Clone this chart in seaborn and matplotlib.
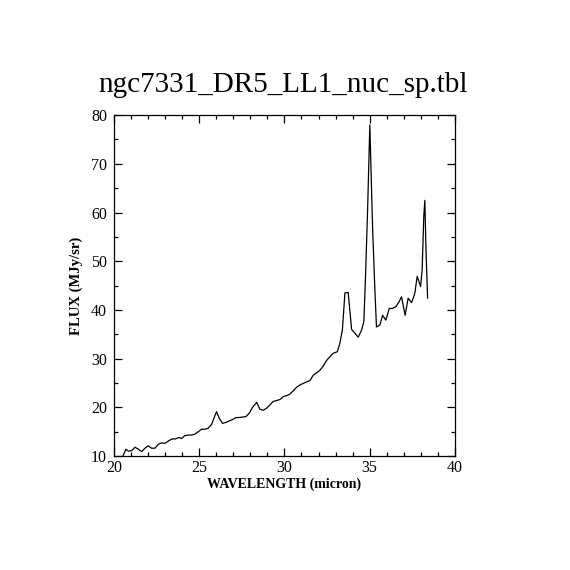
import numpy as np
import pandas as pd
import matplotlib
matplotlib.use("Agg")
import matplotlib.pyplot as plt
import seaborn as sns
from matplotlib.ticker import MultipleLocator

# spectrum
wavelength = [20.5, 20.7, 20.84, 21.04, 21.23, 21.43, 21.62, 21.82, 22.0, 22.2,
              22.4, 22.6, 22.8, 23.0, 23.2, 23.4, 23.6, 23.8, 23.97, 24.16,
              24.36, 24.55, 24.75, 24.95, 25.14, 25.34, 25.53, 25.73, 25.9, 26.02,
              26.18, 26.37, 26.57, 26.76, 26.96, 27.16, 27.35, 27.55, 27.74, 27.94,
              28.13, 28.37, 28.56, 28.76, 28.95, 29.15, 29.34, 29.54, 29.74, 29.93,
              30.13, 30.32, 30.52, 30.71, 30.91, 31.1, 31.3, 31.5, 31.69, 31.89,
              32.08, 32.28, 32.47, 32.67, 32.86, 33.1, 33.25, 33.4, 33.55, 33.74,
              33.94, 34.14, 34.33, 34.53, 34.66, 34.76, 34.88, 35.01, 35.17, 35.3,
              35.4, 35.6, 35.76, 35.95, 36.15, 36.34, 36.54, 36.73, 36.87, 37.08,
              37.26, 37.46, 37.65, 37.79, 37.99, 38.08, 38.18, 38.24, 38.3, 38.4]
flux = [9.8, 11.4, 11.0, 11.1, 11.8, 11.4, 10.9, 11.6, 12.1, 11.6,
        11.6, 12.4, 12.7, 12.6, 13.1, 13.5, 13.5, 13.8, 13.6, 14.2,
        14.3, 14.3, 14.5, 15.0, 15.5, 15.5, 15.7, 16.5, 18.1, 19.1,
        17.7, 16.7, 16.9, 17.2, 17.5, 17.9, 17.9, 18.0, 18.1, 18.8,
        20.0, 21.0, 19.6, 19.4, 19.8, 20.5, 21.2, 21.4, 21.6, 22.2,
        22.4, 22.7, 23.4, 24.1, 24.6, 24.9, 25.2, 25.5, 26.6, 27.1,
        27.6, 28.5, 29.6, 30.4, 31.1, 31.4, 33.1, 35.9, 43.5, 43.6,
        36.0, 35.2, 34.4, 35.9, 37.6, 47.1, 60.5, 78.0, 57.1, 44.8,
        36.5, 36.9, 38.9, 37.9, 40.3, 40.3, 40.7, 41.7, 42.7, 38.9,
        42.4, 41.5, 43.4, 46.9, 44.8, 48.2, 59.5, 62.5, 53.0, 42.4]

df = pd.DataFrame({"wavelength": wavelength, "flux": flux})

sns.set_style("ticks")
plt.rcParams["font.family"] = ["Liberation Serif", "DejaVu Serif"]
plt.rcParams["text.color"] = "black"
plt.rcParams["axes.labelcolor"] = "black"
plt.rcParams["xtick.labelcolor"] = "black"
plt.rcParams["ytick.labelcolor"] = "black"

fig = plt.figure(figsize=(5.7, 5.7), dpi=100)
ax = fig.add_axes([0.2, 0.2, 0.598, 0.598])
sns.lineplot(data=df, x="wavelength", y="flux", color="black", lw=0.9, ax=ax)

ax.set_xlim(20, 40)
ax.set_ylim(10, 80)
ax.xaxis.set_major_locator(MultipleLocator(5))
ax.xaxis.set_minor_locator(MultipleLocator(1))
ax.yaxis.set_major_locator(MultipleLocator(10))
ax.yaxis.set_minor_locator(MultipleLocator(5))
ax.tick_params(which="both", direction="in", top=True, right=True, labelsize=11.5,
               width=0.9, color="black", labelcolor="black")
ax.tick_params(which="major", length=6)
ax.tick_params(which="minor", length=3)
ax.tick_params(axis="y", pad=5)
ax.tick_params(axis="x", pad=3)
for s in ax.spines.values():
    s.set_linewidth(0.9)
    s.set_color("black")

ax.set_xlabel("WAVELENGTH (micron)", fontsize=10, fontweight="bold", labelpad=1, color="black")
ax.set_ylabel("FLUX (MJy/sr)", fontsize=10.5, fontweight="bold", labelpad=6, color="black")
fig.text(0.497, 0.851, "ngc7331_DR5_LL1_nuc_sp.tbl", ha="center", va="center",
         fontsize=21, color="black")

fig.savefig("out.png", dpi=100, facecolor="white")
